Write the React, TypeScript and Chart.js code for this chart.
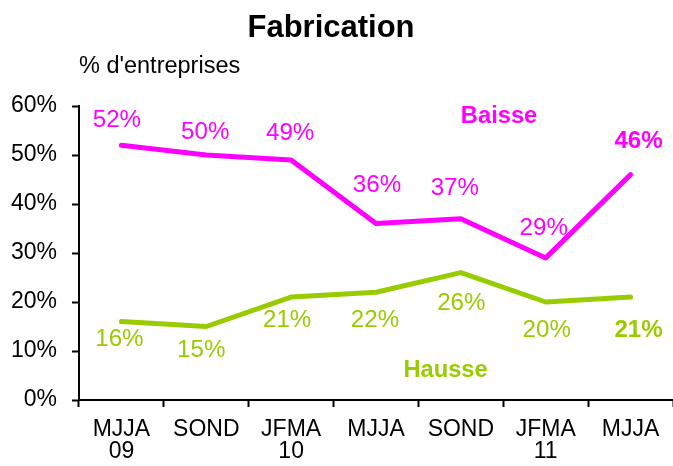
import React, { useEffect, useRef } from "react";
import { Chart, registerables } from "chart.js";

Chart.register(...registerables);

const categories: string[][] = [["MJJA", "09"], ["SOND"], ["JFMA", "10"], ["MJJA"], ["SOND"], ["JFMA", "11"], ["MJJA"]];
const baisse: number[] = [52, 50, 49, 36, 37, 29, 46];
const hausse: number[] = [16, 15, 21, 22, 26, 20, 21];
const yTicks: number[] = [0, 10, 20, 30, 40, 50, 60];

const TITLE = "Fabrication";
const SUBTITLE = "% d'entreprises";
const MAGENTA = "#FF00FF";
const GREEN = "#99CC00";
const FONT = "'Liberation Sans', Arial, sans-serif";

// label nudges (pixels) relative to each point
const baisseDx = [-4.5, -1, -1, 1, -6, -2, 8];
const baisseDy = [-24.5, -22, -26, -38, -30, -29.5, -33];
const hausseDx = [-2, -5, -4, -1, 0.5, 1, 8];
const hausseDy = [18, 24, 24, 28, 31, 28.5, 33.5];

function stretchedText(ctx: any, text: string, x: number, y: number, sx: number) {
  ctx.save();
  ctx.translate(x, y);
  ctx.scale(sx, 1);
  ctx.fillText(text, 0, 0);
  ctx.restore();
}

const labelPlugin = {
  id: "customLabels",
  afterDatasetsDraw(chart: any) {
    const ctx = chart.ctx;
    ctx.save();
    ctx.textAlign = "center";
    ctx.textBaseline = "middle";
    const sets = [
      { idx: 0, color: MAGENTA, dx: baisseDx, dy: baisseDy, vals: baisse },
      { idx: 1, color: GREEN, dx: hausseDx, dy: hausseDy, vals: hausse },
    ];
    sets.forEach((s) => {
      const meta = chart.getDatasetMeta(s.idx);
      meta.data.forEach((pt: any, j: number) => {
        const last = j === s.vals.length - 1;
        ctx.font = (last ? "bold " : "") + "23px " + FONT;
        ctx.fillStyle = s.color;
        stretchedText(ctx, s.vals[j] + "%", pt.x + s.dx[j], pt.y + s.dy[j], 1.05);
      });
    });
    const xs = chart.scales.x;
    const ys = chart.scales.y;
    ctx.font = "bold 23px " + FONT;
    ctx.fillStyle = MAGENTA;
    stretchedText(ctx, "Baisse", xs.getPixelForValue(4.45), ys.getPixelForValue(57.9), 1.03);
    ctx.fillStyle = GREEN;
    stretchedText(ctx, "Hausse", xs.getPixelForValue(3.82), ys.getPixelForValue(5.9), 1.03);

    ctx.fillStyle = "#000";
    ctx.textBaseline = "alphabetic";
    ctx.font = "bold 31px " + FONT;
    ctx.textAlign = "center";
    ctx.fillText(TITLE, 331, 37);
    ctx.font = "23.5px " + FONT;
    ctx.textAlign = "left";
    ctx.fillText(SUBTITLE, 79, 73);
    ctx.restore();
  },
};

export default function App() {
  const ref = useRef<HTMLCanvasElement>(null);
  useEffect(() => {
    if (!ref.current) return;
    Chart.defaults.font.family = FONT;
    const chart = new Chart(ref.current, {
      type: "line",
      data: {
        labels: categories,
        datasets: [
          {
            label: "Baisse",
            data: baisse,
            borderColor: MAGENTA,
            backgroundColor: MAGENTA,
            borderWidth: 5,
            pointRadius: 0,
            tension: 0,
            borderCapStyle: "round",
            borderJoinStyle: "round",
            clip: false,
          },
          {
            label: "Hausse",
            data: hausse,
            borderColor: GREEN,
            backgroundColor: GREEN,
            borderWidth: 5,
            pointRadius: 0,
            tension: 0,
            borderCapStyle: "round",
            borderJoinStyle: "round",
            clip: false,
          },
        ],
      },
      options: {
        responsive: false,
        animation: false,
        layout: { padding: { top: 106, left: 0, right: 0, bottom: 0 } },
        plugins: {
          legend: { display: false },
          title: { display: false },
          tooltip: { enabled: false },
        },
        scales: {
          x: {
            type: "category",
            offset: true,
            grid: {
              offset: true,
              drawOnChartArea: false,
              drawTicks: true,
              tickLength: 7,
              tickColor: "#000",
              tickWidth: 2,
            },
            border: { color: "#000", width: 2 },
            ticks: {
              color: "#000",
              font: { size: 23, lineHeight: 0.95 },
              padding: 12,
              autoSkip: false,
              maxRotation: 0,
              minRotation: 0,
            },
            afterFit: (s: any) => {
              s.height = 66;
            },
          },
          y: {
            min: 0,
            max: 60,
            afterBuildTicks: (s: any) => {
              s.ticks = yTicks.map((v) => ({ value: v }));
            },
            grid: {
              drawOnChartArea: false,
              drawTicks: true,
              tickLength: 7,
              tickColor: "#000",
              tickWidth: 2,
            },
            border: { color: "#000", width: 2 },
            ticks: {
              color: "#000",
              font: { size: 23 },
              padding: 15,
              callback: (v: any) => v + "%",
            },
            afterFit: (s: any) => {
              s.width = 79;
            },
          },
        },
      },
      plugins: [labelPlugin],
    });
    return () => chart.destroy();
  }, []);
  return (
    <div style={{ position: "absolute", left: 0, top: 0, width: 673, height: 466 }}>
      <canvas ref={ref} width={673} height={466} style={{ display: "block" }} />
    </div>
  );
}
